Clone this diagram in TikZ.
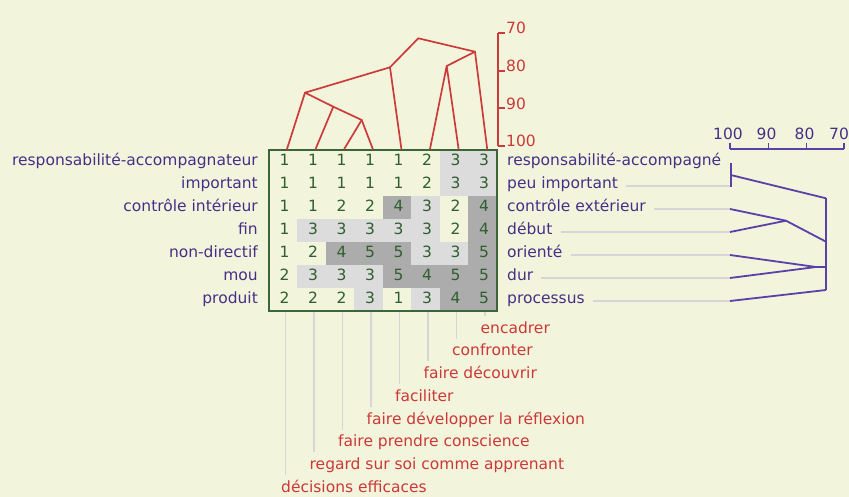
\documentclass[tikz,border=0pt]{standalone}
\usepackage{fontspec}
\setmainfont{DejaVu Sans}
\usetikzlibrary{calc}
\definecolor{bgc}{HTML}{F2F5DC}
\definecolor{txtpurple}{HTML}{443087}
\definecolor{linepurple}{HTML}{5A40A8}
\definecolor{txtred}{HTML}{CC3838}
\definecolor{linered}{HTML}{CC3B3B}
\definecolor{gridgreen}{HTML}{3A663A}
\definecolor{digitgreen}{HTML}{2F5E2F}
\definecolor{cellA}{HTML}{DCDCDC}
\definecolor{cellB}{HTML}{ACACAC}
\definecolor{leadgray}{HTML}{D6D6D8}
\tikzset{
  txt/.style={font=\fontsize{15.5}{18}\selectfont, inner sep=0pt, text height=11pt, text depth=3pt},
  llab/.style={txt, text=txtpurple, anchor=east},
  rlab/.style={txt, text=txtpurple, anchor=west},
  blab/.style={txt, text=txtred, anchor=west},
  scalered/.style={txt, text=txtred, anchor=base west},
  scalepurple/.style={txt, text=txtpurple, anchor=base},
  digit/.style={txt, text=digitgreen},
  redtree/.style={draw=linered, line width=1.7pt, line join=round, line cap=round},
  purptree/.style={draw=linepurple, line width=1.8pt, line join=round},
  leader/.style={draw=leadgray, line width=1.6pt},
}
\begin{document}
\begin{tikzpicture}[x=1pt,y=-1pt]
\fill[bgc] (0,0) rectangle (849,497);
\useasboundingbox (0,0) rectangle (849,497);

% ---- grid cells ----
\foreach \row [count=\r] in {{1,1,1,1,1,2,3,3},{1,1,1,1,1,2,3,3},{1,1,2,2,4,3,2,4},{1,3,3,3,3,3,2,4},{1,2,4,5,5,3,3,5},{2,3,3,3,5,4,5,5},{2,2,2,3,1,3,4,5}} {
  \foreach \v [count=\c] in \row {
    \ifnum\v=3 \fill[cellA] ({268.5+28.5*(\c-1)},{150+23*(\r-1)}) rectangle ++(28.5,23); \fi
    \ifnum\v>3 \fill[cellB] ({268.5+28.5*(\c-1)},{150+23*(\r-1)}) rectangle ++(28.5,23); \fi
    \node[digit] (d-\r-\c) at ({284.5+28.5*(\c-1)},{161.5+23*(\r-1)}) {\v};
  }
}
\node[draw=gridgreen, line width=2pt, minimum width=228pt, minimum height=161pt, inner sep=0pt] (grid) at (382.5,230.5) {};

% ---- left labels ----
\foreach \t [count=\r] in {responsabilité-accompagnateur,important,contrôle intérieur,fin,non-directif,mou,produit} {
  \node[llab] (ll\r) at (258,{161.5+23*(\r-1)}) {\t};
}
% ---- right labels ----
\foreach \t [count=\r] in {responsabilité-accompagné,peu important,contrôle extérieur,début,orienté,dur,processus} {
  \node[rlab] (rl\r) at (507,{161.5+23*(\r-1)}) {\t};
  \coordinate (r\r) at (730,{163+23*(\r-1)});
}
\foreach \r in {2,...,7} {
  \path (rl\r.east) ++(8,0) coordinate (re\r);
  \draw[leader, line width=1.3pt] (re\r |- r\r) -- (r\r);
}

% ---- bottom labels ----
\foreach \t [count=\i] in {décisions efficaces,regard sur soi comme apprenant,faire prendre conscience,faire développer la réflexion,faciliter,faire découvrir,confronter,encadrer} {
  \coordinate (bt\i) at ({285.5+28.5*(\i-1)},312);
  \node[blab] (b\i) at ({281+28.5*(\i-1)},{329+22.75*(8-\i)}) {\t};
  \path (bt\i |- b\i.north) ++(0,-6) coordinate (bb\i);
  \draw[leader] (bt\i) -- (bb\i);
}

% ---- top dendrogram ----
\foreach \i in {1,...,8} { \coordinate (t\i) at ({287+28.6*(\i-1)},149); }
\coordinate (nA) at (305,92.7);
\coordinate (nB) at (333.3,106.7);
\coordinate (nC) at (361.7,120);
\coordinate (nD) at (390,67.3);
\coordinate (nE) at (418.3,38.3);
\coordinate (nF) at (475,51.7);
\coordinate (nG) at (446.7,66);
\draw[redtree] (t1) -- (nA) -- (nB) -- (nC) -- (t4);
\draw[redtree] (t2) -- (nB);
\draw[redtree] (t3) -- (nC);
\draw[redtree] (nA) -- (nD) -- (t5);
\draw[redtree] (nD) -- (nE) -- (nF) -- (t8);
\draw[redtree] (t6) -- (nG) -- (t7);
\draw[redtree] (nG) -- (nF);
% red scale
\coordinate (sTop) at (498.3,33);
\coordinate (sBot) at (498.3,146);
\draw[redtree, line cap=butt] (sTop) -- (sBot);
\foreach \v/\y in {70/33,80/70.7,90/108.3,100/146} {
  \coordinate (st\v) at (498.3,\y);
  \draw[redtree, line cap=butt] (st\v) -- ++(6.5,0);
  \node[scalered] (sl\v) at (506,{\y+1}) {\v};
}

% ---- right dendrogram ----
\coordinate (m12) at (730.7,175);
\coordinate (nH) at (826,198.3);
\coordinate (nI) at (786,220.7);
\coordinate (nJ) at (826,241.7);
\coordinate (nK) at (816,267);
\coordinate (nK2) at (826,267);
\coordinate (nL) at (826,290);
\draw[purptree] (730.7,163) -- (730.7,187.5);
\draw[purptree] (m12) -- (nH);
\draw[purptree] (r3) -- (nI);
\draw[purptree] (r4) -- (nI);
\draw[purptree] (nI) -- (nJ);
\draw[purptree] (r5) -- (nK);
\draw[purptree] (r6) -- (nK);
\draw[purptree] (nK) -- (nK2);
\draw[purptree] (r7) -- (nL);
\draw[purptree] (nH) -- (nL);
% purple scale
\draw[purptree] (730,149) -- (844.3,149);
\foreach \v/\x/\lx in {100/730/728,90/768.5/766.5,80/806.5/804.5,70/844.3/839} {
  \coordinate (pt\v) at (\x,149);
  \draw[purptree] (pt\v) -- ++(0,-6);
  \node[scalepurple] (pl\v) at (\lx,139.5) {\v};
}
\end{tikzpicture}
\end{document}
